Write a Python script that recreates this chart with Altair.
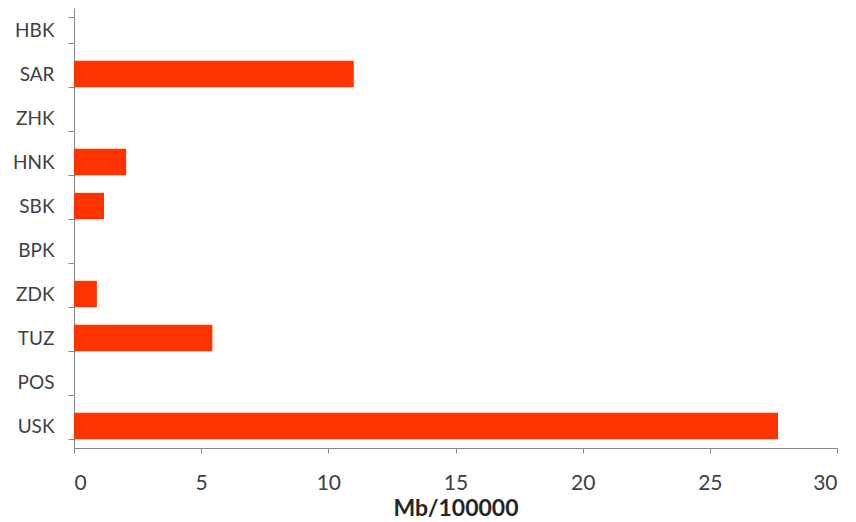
import altair as alt
import pandas as pd

categories = ["HBK", "SAR", "ZHK", "HNK", "SBK", "BPK", "ZDK", "TUZ", "POS", "USK"]
values = [0, 11.0, 0, 2.05, 1.18, 0, 0.9, 5.44, 0, 27.68]
x_ticks = [0, 5, 10, 15, 20, 25, 30]

df = pd.DataFrame({"site": categories, "value": values})

FONT = "Lato"

chart = alt.Chart(df).mark_bar(color="#FF3300").encode(
    y=alt.Y(
        "site:N",
        sort=categories,
        scale=alt.Scale(paddingInner=0.4, paddingOuter=0.2),
        axis=alt.Axis(
            title=None,
            tickBand="extent",
            tickSize=6,
            tickColor="#868686",
            domainColor="#868686",
            labelFont=FONT,
            labelFontSize=19,
            labelColor="#404040",
            labelPadding=14,
            grid=False,
        ),
    ),
    x=alt.X(
        "value:Q",
        scale=alt.Scale(domain=[0, 30], nice=False),
        axis=alt.Axis(
            title="Mb/100000",
            values=x_ticks,
            tickSize=5,
            tickColor="#868686",
            domainColor="#868686",
            labelFont=FONT,
            labelFontSize=21,
            labelColor="#404040",
            labelPadding=19,
            titleFont=FONT,
            titleFontSize=23,
            titleFontWeight="bold",
            titleColor="#262626",
            titlePadding=4,
            grid=False,
        ),
    ),
).properties(
    width=763,
    height=440,
    background="white",
    autosize=alt.AutoSizeParams(type="none"),
    padding={"left": 66, "top": 0, "right": 11, "bottom": 74},
).configure_view(strokeWidth=0)

chart.save("out.html", embed_options={"renderer": "svg", "actions": False})
